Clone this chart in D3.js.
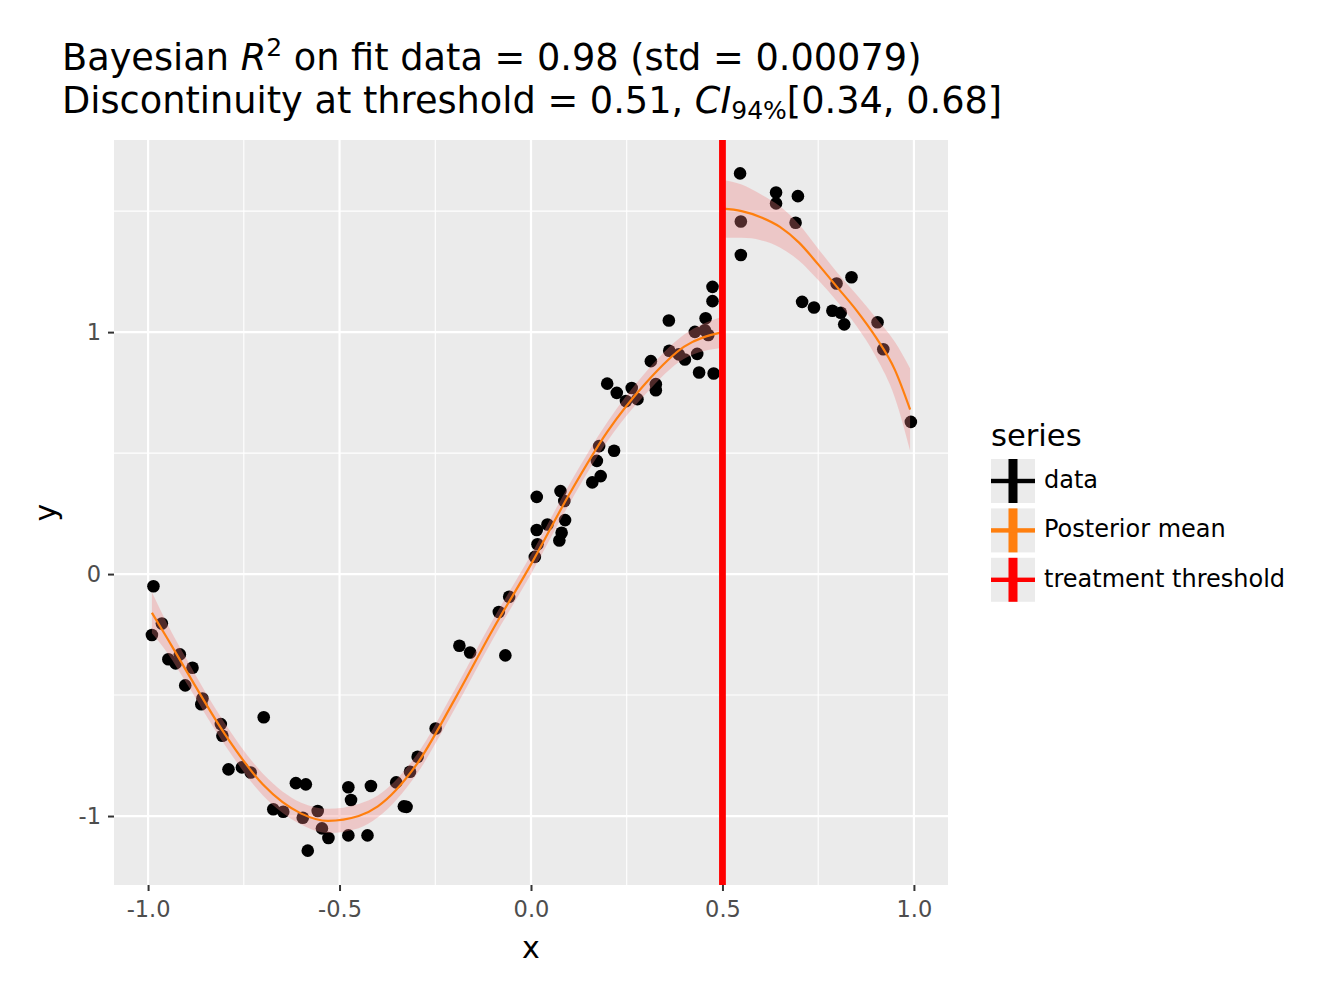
<!DOCTYPE html>
<html>
<head>
<meta charset="utf-8">
<script src="https://cdn.jsdelivr.net/npm/d3@7"></script>
<style>
  body { margin: 0; background: #fff; }
  svg { font-family: "DejaVu Sans", sans-serif; }
</style>
</head>
<body>
<div id="chart"></div>
<script>
// observed data points
const pointX = [-0.986, -0.964, -0.990, -0.947, -0.928, -0.917, -0.884, -0.903, -0.858, -0.861,
  -0.810, -0.806, -0.698, -0.790, -0.755, -0.732, -0.614, -0.588, -0.673, -0.647,
  -0.596, -0.557, -0.546, -0.529, -0.583, -0.477, -0.470, -0.477, -0.427, -0.418,
  -0.352, -0.332, -0.325, -0.316, -0.296, -0.249, -0.187, -0.159, -0.067, -0.084,
  -0.057, 0.010, 0.017, 0.015, 0.015, 0.043, 0.077, 0.087, 0.089, 0.080,
  0.074, 0.160, 0.182, 0.172, 0.178, 0.217, 0.199, 0.224, 0.248, 0.263,
  0.278, 0.326, 0.326, 0.313, 0.360, 0.361, 0.386, 0.402, 0.434, 0.439,
  0.477, 0.428, 0.456, 0.454, 0.463, 0.474, 0.474, 0.546, 0.548, 0.548,
  0.640, 0.640, 0.697, 0.691, 0.708, 0.739, 0.787, 0.809, 0.818, 0.798,
  0.837, 0.905, 0.920, 0.992];
const pointY = [-0.050, -0.204, -0.252, -0.352, -0.369, -0.332, -0.387, -0.460, -0.514, -0.538,
  -0.620, -0.668, -0.592, -0.807, -0.799, -0.820, -0.864, -0.869, -0.972, -0.982,
  -1.007, -0.979, -1.051, -1.091, -1.143, -0.881, -0.934, -1.080, -1.080, -0.876,
  -0.861, -0.960, -0.962, -0.817, -0.755, -0.638, -0.296, -0.324, -0.336, -0.157,
  -0.094, 0.071, 0.123, 0.182, 0.319, 0.205, 0.343, 0.302, 0.223, 0.171,
  0.139, 0.379, 0.405, 0.468, 0.529, 0.510, 0.787, 0.749, 0.715, 0.769,
  0.723, 0.785, 0.760, 0.880, 1.048, 0.923, 0.908, 0.887, 0.910, 0.833,
  0.829, 1.001, 1.057, 1.008, 0.988, 1.187, 1.128, 1.656, 1.457, 1.319,
  1.577, 1.532, 1.562, 1.452, 1.125, 1.102, 1.088, 1.080, 1.032, 1.201,
  1.227, 1.041, 0.929, 0.629];

// posterior mean and 94% band, below threshold
const leftX = [-0.99, -0.95, -0.9, -0.8, -0.7, -0.6, -0.53, -0.45, -0.4, -0.3, -0.2, -0.1, 0.0, 0.1, 0.2, 0.3, 0.4, 0.5];
const leftMean = [-0.16, -0.265, -0.40, -0.66, -0.87, -0.99, -1.02, -1.00, -0.96, -0.79, -0.52, -0.23, 0.04, 0.33, 0.59, 0.79, 0.94, 1.00];
const leftUpper = [-0.075, -0.205, -0.35, -0.615, -0.825, -0.945, -0.97, -0.95, -0.915, -0.75, -0.48, -0.19, 0.08, 0.37, 0.63, 0.835, 0.99, 1.065];
const leftLower = [-0.245, -0.325, -0.45, -0.705, -0.915, -1.035, -1.07, -1.05, -1.005, -0.83, -0.56, -0.27, 0.0, 0.29, 0.55, 0.745, 0.89, 0.935];

// posterior mean and 94% band, above threshold
const rightX = [0.5, 0.55, 0.6, 0.65, 0.7, 0.75, 0.8, 0.85, 0.9, 0.95, 0.99];
const rightMean = [1.51, 1.50, 1.475, 1.435, 1.37, 1.28, 1.185, 1.09, 0.98, 0.845, 0.68];
const rightUpper = [1.63, 1.61, 1.57, 1.52, 1.445, 1.345, 1.245, 1.155, 1.06, 0.96, 0.85];
const rightLower = [1.39, 1.39, 1.38, 1.35, 1.295, 1.215, 1.125, 1.025, 0.90, 0.73, 0.51];

const threshold = 0.5;

const xMajor = [-1.0, -0.5, 0.0, 0.5, 1.0];
const xMinor = [-0.75, -0.25, 0.25, 0.75];
const yMajor = [-1, 0, 1];
const yMinor = [-0.5, 0.5, 1.5];
const xTickLabels = ["-1.0", "-0.5", "0.0", "0.5", "1.0"];
const yTickLabels = ["-1", "0", "1"];

const legendLabels = ["data", "Posterior mean", "treatment threshold"];
const legendColors = ["#000000", "#ff7f0e", "#ff0000"];

(function () {
  const W = 1320, H = 999;
  const panel = { left: 114, top: 140, right: 948, bottom: 885 };

  const svg = d3.select("#chart").append("svg")
    .attr("width", W)
    .attr("height", H);

  const x = d3.scaleLinear().domain([-1.089, 1.089]).range([panel.left, panel.right]);
  const y = d3.scaleLinear().domain([-1.285, 1.794]).range([panel.bottom, panel.top]);

  // panel background + grid
  svg.append("rect")
    .attr("x", panel.left).attr("y", panel.top)
    .attr("width", panel.right - panel.left)
    .attr("height", panel.bottom - panel.top)
    .attr("fill", "#ebebeb");

  const grid = svg.append("g");
  grid.selectAll(".xminor").data(xMinor).join("line")
    .attr("x1", d => x(d)).attr("x2", d => x(d))
    .attr("y1", panel.top).attr("y2", panel.bottom)
    .attr("stroke", "#fff").attr("stroke-width", 1.1);
  grid.selectAll(".yminor").data(yMinor).join("line")
    .attr("y1", d => y(d)).attr("y2", d => y(d))
    .attr("x1", panel.left).attr("x2", panel.right)
    .attr("stroke", "#fff").attr("stroke-width", 1.1);
  grid.selectAll(".xmajor").data(xMajor).join("line")
    .attr("x1", d => x(d)).attr("x2", d => x(d))
    .attr("y1", panel.top).attr("y2", panel.bottom)
    .attr("stroke", "#fff").attr("stroke-width", 2.2);
  grid.selectAll(".ymajor").data(yMajor).join("line")
    .attr("y1", d => y(d)).attr("y2", d => y(d))
    .attr("x1", panel.left).attr("x2", panel.right)
    .attr("stroke", "#fff").attr("stroke-width", 2.2);

  // axes (hyphen minus like the original)
  const xAxis = svg.append("g")
    .attr("transform", `translate(0,${panel.bottom})`)
    .call(d3.axisBottom(x).tickValues(xMajor)
      .tickFormat((d, i) => xTickLabels[i]).tickSize(6).tickPadding(10));
  const yAxis = svg.append("g")
    .attr("transform", `translate(${panel.left},0)`)
    .call(d3.axisLeft(y).tickValues(yMajor)
      .tickFormat((d, i) => yTickLabels[i]).tickSize(6).tickPadding(7));
  [xAxis, yAxis].forEach(g => {
    g.select(".domain").remove();
    g.selectAll(".tick line").attr("stroke", "#333").attr("stroke-width", 2);
    g.selectAll(".tick text")
      .attr("fill", "#4d4d4d")
      .style("font-family", "DejaVu Sans")
      .style("font-size", "22.5px");
  });

  // points
  const pts = d3.zip(pointX, pointY);
  svg.append("g").selectAll("circle").data(pts).join("circle")
    .attr("cx", d => x(d[0]))
    .attr("cy", d => y(d[1]))
    .attr("r", 6.3)
    .attr("fill", "#000");

  // bands + mean lines
  const segs = [
    { xs: leftX, mean: leftMean, lo: leftLower, hi: leftUpper },
    { xs: rightX, mean: rightMean, lo: rightLower, hi: rightUpper }
  ];
  const area = d3.area()
    .x(d => x(d.x)).y0(d => y(d.lo)).y1(d => y(d.hi))
    .curve(d3.curveMonotoneX);
  const line = d3.line()
    .x(d => x(d.x)).y(d => y(d.m))
    .curve(d3.curveMonotoneX);

  segs.forEach(s => {
    const rows = s.xs.map((v, i) => ({ x: v, m: s.mean[i], lo: s.lo[i], hi: s.hi[i] }));
    svg.append("path").datum(rows)
      .attr("d", area)
      .attr("fill", "#f08080")
      .attr("fill-opacity", 0.33);
    svg.append("path").datum(rows)
      .attr("d", line)
      .attr("fill", "none")
      .attr("stroke", "#ff7f0e")
      .attr("stroke-width", 2.2);
  });

  // treatment threshold
  svg.append("line")
    .attr("x1", x(threshold)).attr("x2", x(threshold))
    .attr("y1", panel.top).attr("y2", panel.bottom)
    .attr("stroke", "#ff0000")
    .attr("stroke-width", 6.8);

  // axis titles
  svg.append("text")
    .attr("x", (panel.left + panel.right) / 2)
    .attr("y", 958)
    .attr("text-anchor", "middle")
    .style("font-size", "30px")
    .text("x");
  svg.append("text")
    .attr("transform", `translate(56,${(panel.top + panel.bottom) / 2}) rotate(-90)`)
    .attr("text-anchor", "middle")
    .style("font-size", "30px")
    .text("y");

  // title
  const t1 = svg.append("text").attr("x", 62).attr("y", 70).style("font-size", "36.7px");
  t1.append("tspan").text("Bayesian ");
  t1.append("tspan").style("font-style", "italic").text("R");
  t1.append("tspan").attr("dy", -14).style("font-size", "25px").text("2");
  t1.append("tspan").attr("dy", 14).text(" on fit data = 0.98 (std = 0.00079)");

  const t2 = svg.append("text").attr("x", 62).attr("y", 113).style("font-size", "36.7px");
  t2.append("tspan").text("Discontinuity at threshold = 0.51, ");
  t2.append("tspan").style("font-style", "italic").text("CI");
  t2.append("tspan").attr("dy", 6).style("font-size", "25px").text("94%");
  t2.append("tspan").attr("dy", -6).text("[0.34, 0.68]");

  // legend
  const lg = svg.append("g").attr("transform", "translate(991,0)");
  lg.append("text")
    .attr("x", 0).attr("y", 446)
    .style("font-size", "30.6px")
    .text("series");

  const keys = lg.selectAll(".key").data(legendLabels).join("g")
    .attr("transform", (d, i) => `translate(0,${459 + i * 49.4})`);
  keys.append("rect")
    .attr("width", 44).attr("height", 44)
    .attr("fill", "#ebebeb");
  keys.append("rect")
    .attr("x", 17.5).attr("width", 9).attr("height", 44)
    .attr("fill", (d, i) => legendColors[i]);
  keys.append("rect")
    .attr("x", 0).attr("y", 19.8).attr("width", 44).attr("height", 4.4)
    .attr("fill", (d, i) => legendColors[i]);
  keys.append("text")
    .attr("x", 53).attr("y", 29)
    .style("font-size", "24px")
    .text(d => d);
})();
</script>
</body>
</html>
